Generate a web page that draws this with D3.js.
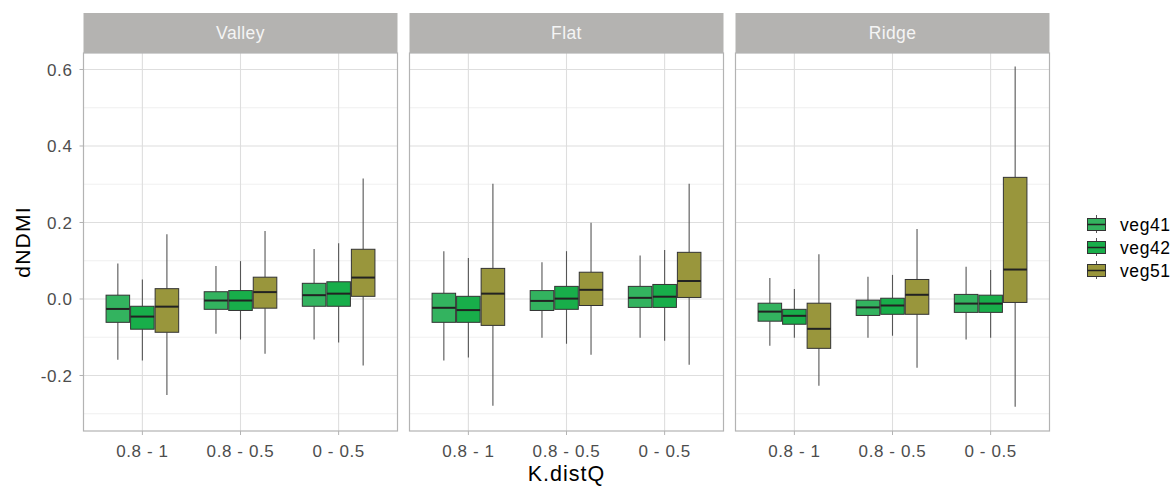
<!DOCTYPE html>
<html><head><meta charset="utf-8">
<script src="https://cdn.jsdelivr.net/npm/d3@7"></script>
<style>body{margin:0;background:#fff}svg{display:block;font-family:"Liberation Sans",Arial,sans-serif}</style>
</head><body><svg id="c" width="1175" height="486"></svg>
<script>
const panels = ["Valley", "Flat", "Ridge"];
const categories = ["0.8 - 1", "0.8 - 0.5", "0 - 0.5"];
const series = ["veg41", "veg42", "veg51"];
const colors = ["#33b35f", "#18ae4a", "#99963c"];
const yTicks = [0.6, 0.4, 0.2, 0.0, -0.2];
const yMinor = [0.5, 0.3, 0.1, -0.1, -0.3];
// [min, q1, median, q3, max] per panel -> series -> category
const valleyVeg41 = [[-0.159,-0.061,-0.026,0.010,0.093],[-0.091,-0.027,-0.004,0.019,0.086],[-0.106,-0.019,0.010,0.041,0.131]];
const valleyVeg42 = [[-0.161,-0.079,-0.046,-0.019,0.051],[-0.106,-0.030,-0.004,0.022,0.099],[-0.114,-0.019,0.014,0.045,0.146]];
const valleyVeg51 = [[-0.251,-0.087,-0.020,0.027,0.169],[-0.143,-0.024,0.018,0.057,0.178],[-0.174,0.007,0.056,0.130,0.315]];
const flatVeg41 = [[-0.161,-0.061,-0.023,0.015,0.125],[-0.101,-0.030,-0.005,0.022,0.096],[-0.101,-0.022,0.003,0.033,0.114]];
const flatVeg42 = [[-0.153,-0.061,-0.029,0.007,0.107],[-0.117,-0.027,0.001,0.033,0.125],[-0.109,-0.022,0.006,0.038,0.128]];
const flatVeg51 = [[-0.279,-0.069,0.014,0.080,0.301],[-0.146,-0.017,0.024,0.070,0.199],[-0.172,0.004,0.047,0.122,0.301]];
const ridgeVeg41 = [[-0.122,-0.058,-0.033,-0.011,0.055],[-0.101,-0.043,-0.022,-0.003,0.058],[-0.106,-0.035,-0.012,0.012,0.084]];
const ridgeVeg42 = [[-0.101,-0.066,-0.044,-0.027,0.026],[-0.096,-0.040,-0.017,0.002,0.063],[-0.101,-0.035,-0.012,0.010,0.076]];
const ridgeVeg51 = [[-0.227,-0.129,-0.078,-0.011,0.117],[-0.180,-0.040,0.011,0.051,0.183],[-0.282,-0.009,0.077,0.318,0.608]];
const stats = {
  Valley: [valleyVeg41, valleyVeg42, valleyVeg51],
  Flat: [flatVeg41, flatVeg42, flatVeg51],
  Ridge: [ridgeVeg41, ridgeVeg42, ridgeVeg51]
};

const svg = d3.select("#c");
const plotLeft = 83.5, plotRight = 1049.5, gap = 12;
const stripTop = 13, panelTop = 53, panelBottom = 431;
const pw = (plotRight - plotLeft - 2 * gap) / 3;
const y = d3.scaleLinear().domain([-0.3451, 0.6431]).range([panelBottom, panelTop]);
const xUnit = d3.scaleLinear().domain([0.4, 3.6]).range([0, pw]);
const fillGrid = "#dedede";

panels.forEach((p, pi) => {
  const x0 = plotLeft + pi * (pw + gap);
  const g = svg.append("g").attr("transform", `translate(${x0},0)`);
  // strip
  g.append("rect").attr("x", 0).attr("y", stripTop).attr("width", pw).attr("height", panelTop - stripTop).attr("fill", "#b4b3b1");
  g.append("text").attr("x", pw / 2).attr("y", (stripTop + panelTop) / 2).attr("dy", "0.36em")
    .attr("text-anchor", "middle").attr("fill", "#f5f5f5").attr("font-size", 17.5).attr("letter-spacing", 0.4).text(p);
  // grid
  g.selectAll(".ymin").data(yMinor).join("line").attr("x1", 0).attr("x2", pw)
    .attr("y1", d => y(d)).attr("y2", d => y(d)).attr("stroke", "#e6e6e6").attr("stroke-width", 0.6);
  g.selectAll(".ymaj").data(yTicks).join("line").attr("x1", 0).attr("x2", pw)
    .attr("y1", d => y(d)).attr("y2", d => y(d)).attr("stroke", fillGrid).attr("stroke-width", 1.1);
  g.selectAll(".xmaj").data(categories).join("line").attr("x1", (d, i) => xUnit(i + 1)).attr("x2", (d, i) => xUnit(i + 1))
    .attr("y1", panelTop).attr("y2", panelBottom).attr("stroke", fillGrid).attr("stroke-width", 1.1);
  // boxes
  const bw = xUnit(0.24) - xUnit(0);
  series.forEach((s, si) => {
    stats[p][si].forEach((st, ci) => {
      const cx = xUnit(ci + 1 + (si - 1) * 0.25);
      const [mn, q1, md, q3, mx] = st;
      g.append("line").attr("x1", cx).attr("x2", cx).attr("y1", y(mx)).attr("y2", y(q3)).attr("stroke", "#555").attr("stroke-width", 1.1);
      g.append("line").attr("x1", cx).attr("x2", cx).attr("y1", y(q1)).attr("y2", y(mn)).attr("stroke", "#555").attr("stroke-width", 1.1);
      g.append("rect").attr("x", cx - bw / 2).attr("y", y(q3)).attr("width", bw).attr("height", y(q1) - y(q3))
        .attr("fill", colors[si]).attr("stroke", "#333").attr("stroke-width", 1);
      g.append("line").attr("x1", cx - bw / 2).attr("x2", cx + bw / 2).attr("y1", y(md)).attr("y2", y(md))
        .attr("stroke", "#222").attr("stroke-width", 2);
    });
  });
  // border
  g.append("rect").attr("x", 0).attr("y", panelTop).attr("width", pw).attr("height", panelBottom - panelTop)
    .attr("fill", "none").attr("stroke", "#b3b3b3").attr("stroke-width", 1.2);
  // x axis
  categories.forEach((c, ci) => {
    const cx = xUnit(ci + 1);
    g.append("line").attr("x1", cx).attr("x2", cx).attr("y1", panelBottom).attr("y2", panelBottom + 4).attr("stroke", "#b3b3b3");
    g.append("text").attr("x", cx).attr("y", 457).attr("text-anchor", "middle").attr("fill", "#4d4d4d")
      .attr("font-size", 17).attr("letter-spacing", 0.6).text(c);
  });
});
// y axis
const ya = svg.append("g");
yTicks.forEach(t => {
  ya.append("line").attr("x1", plotLeft - 4).attr("x2", plotLeft).attr("y1", y(t)).attr("y2", y(t)).attr("stroke", "#b3b3b3");
  ya.append("text").attr("x", 72.5).attr("y", y(t)).attr("dy", "0.36em").attr("text-anchor", "end")
    .attr("fill", "#4d4d4d").attr("font-size", 17).attr("letter-spacing", 0.6).text(d3.format(".1f")(t).replace("−", "-"));
});
svg.append("text").attr("transform", `translate(30,${(panelTop + panelBottom) / 2}) rotate(-90)`)
  .attr("text-anchor", "middle").attr("font-size", 21).attr("letter-spacing", 1.2).attr("fill", "#000").text("dNDMI");
svg.append("text").attr("x", (plotLeft + plotRight) / 2).attr("y", 480.5).attr("text-anchor", "middle")
  .attr("font-size", 21.5).attr("letter-spacing", 1).attr("fill", "#000").text("K.distQ");
// legend
const lg = svg.append("g").attr("transform", "translate(1087,212)");
series.forEach((s, i) => {
  const ky = i * 23;
  lg.append("line").attr("x1", 9.5).attr("x2", 9.5).attr("y1", ky + 3).attr("y2", ky + 21).attr("stroke", "#555");
  lg.append("rect").attr("x", 0.5).attr("y", ky + 6.5).attr("width", 18).attr("height", 12).attr("fill", colors[i]).attr("stroke", "#333");
  lg.append("line").attr("x1", 0.5).attr("x2", 18.5).attr("y1", ky + 12.5).attr("y2", ky + 12.5).attr("stroke", "#222").attr("stroke-width", 1.5);
  lg.append("text").attr("x", 33).attr("y", ky + 12.5).attr("dy", "0.36em").attr("font-size", 17.5).attr("letter-spacing", 0.6).attr("fill", "#000").text(s);
});
</script></body></html>
